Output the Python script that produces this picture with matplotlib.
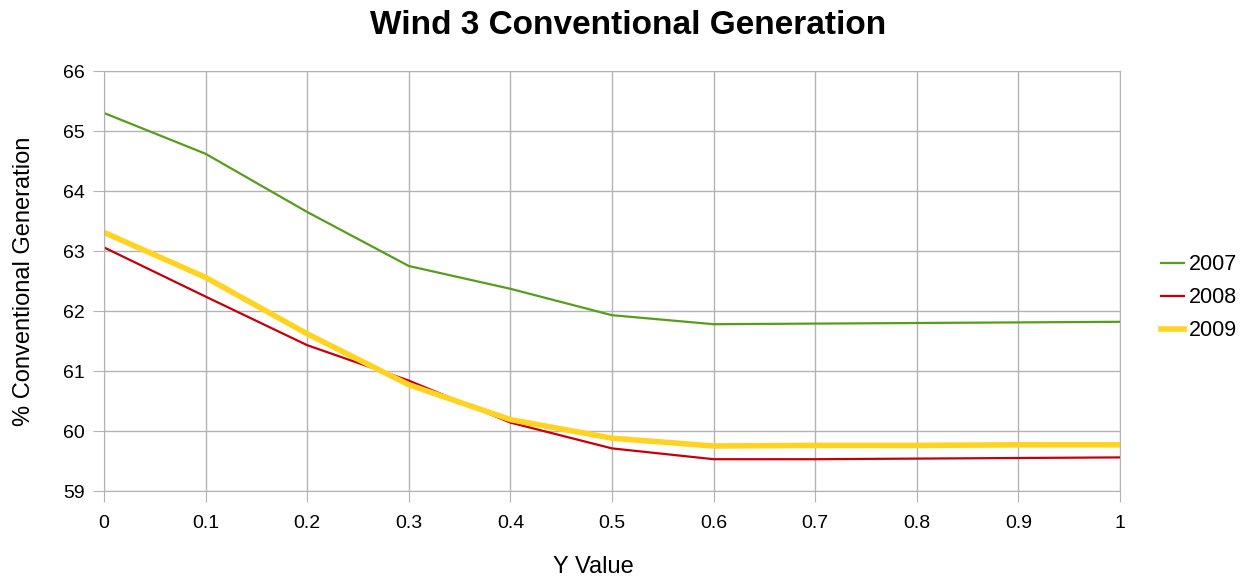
import matplotlib.pyplot as plt

plt.rcParams['font.family'] = ['Liberation Sans', 'DejaVu Sans']

# datos
y_value = [0, 0.1, 0.2, 0.3, 0.4, 0.5, 0.6, 0.7, 0.8, 0.9, 1.0]
gen_2007 = [65.30, 64.62, 63.65, 62.75, 62.37, 61.93, 61.78, 61.79, 61.80, 61.81, 61.82]
gen_2008 = [63.06, 62.24, 61.43, 60.84, 60.14, 59.71, 59.53, 59.53, 59.54, 59.55, 59.56]
gen_2009 = [63.31, 62.56, 61.62, 60.77, 60.19, 59.88, 59.75, 59.76, 59.76, 59.77, 59.77]
x_labels = ['0', '0.1', '0.2', '0.3', '0.4', '0.5', '0.6', '0.7', '0.8', '0.9', '1']

fig = plt.figure(figsize=(12.48, 5.8), dpi=100)
ax = fig.add_axes([104/1248, 1-491/580, (1120-104)/1248, (491-71)/580])

ax.plot(y_value, gen_2007, color='#579d1c', linewidth=1.6, label='2007')
ax.plot(y_value, gen_2008, color='#c5000b', linewidth=1.6, label='2008')
ax.plot(y_value, gen_2009, color='#ffd320', linewidth=4, label='2009')

ax.set_xlim(0, 1)
ax.set_ylim(59, 66)
ax.set_xticks(y_value)
ax.set_xticklabels(x_labels)
ax.set_yticks(range(59, 67))
ax.grid(color='#b3b3b3', linewidth=1)
ax.set_axisbelow(True)
for s in ax.spines.values():
    s.set_color('#b3b3b3')
ax.tick_params(colors='#b3b3b3', labelcolor='black', labelsize=14, length=8, direction='out')
ax.tick_params(axis='y', pad=6)
ax.tick_params(axis='x', pad=9)

ax.set_xlabel('Y Value', fontsize=17, labelpad=13)
ax.xaxis.set_label_coords(0.482, -0.155)
ax.set_ylabel('% Conventional Generation', fontsize=17, labelpad=20)
fig.suptitle('Wind 3 Conventional Generation', fontsize=24, fontweight='bold', x=628/1248, y=1-25/580, va='center')

ax.legend(loc='center left', bbox_to_anchor=(1.021, 0.46), frameon=False, fontsize=15.5,
          handlelength=1.1, handletextpad=0.2, labelspacing=0.55)

fig.savefig('out.png', dpi=100)
